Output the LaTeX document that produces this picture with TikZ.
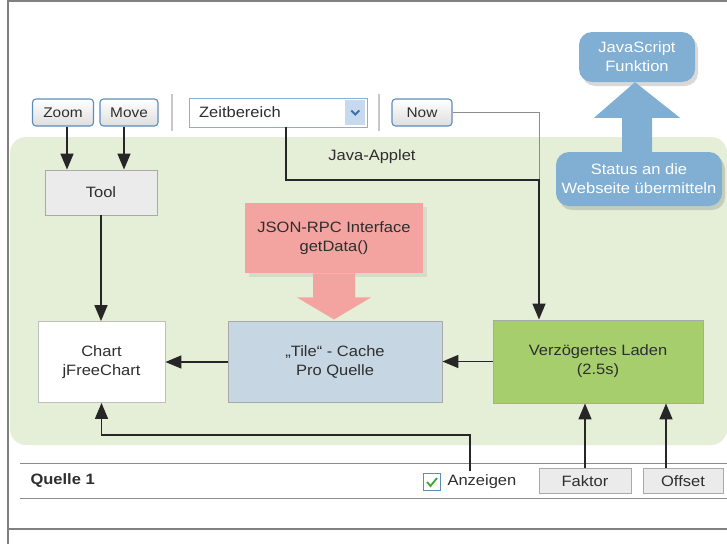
\documentclass[tikz,border=0pt]{standalone}
\usepackage{fontspec}
\setmainfont{Liberation Sans}[FakeStretch=1.1]
\usetikzlibrary{arrows.meta,calc,positioning,shadows}
\definecolor{AppletGreen}{HTML}{E5EED7}
\definecolor{LoadGreen}{HTML}{A6CE6C}
\definecolor{CacheBlue}{HTML}{C6D6E3}
\definecolor{RpcPink}{HTML}{F4A4A0}
\definecolor{JsBlue}{HTML}{80AFD3}
\definecolor{BtnBlue}{HTML}{5C8DB9}
\definecolor{DropBlue}{HTML}{C6D9EE}
\definecolor{ChevBlue}{HTML}{3D6FA8}
\definecolor{CheckGreen}{HTML}{3BAA35}
\definecolor{BoxGray}{HTML}{A9A9A9}
\definecolor{TxtGray}{HTML}{2E2E2E}
\tikzset{
 ui button/.style={draw=BtnBlue,line width=1.1pt,rounded corners=3.5pt,top color=white,
                   bottom color=black!13,minimum height=27pt,inner sep=0pt,
                   text=TxtGray,font=\fontsize{14}{16}\selectfont},
 ui field/.style={draw=BoxGray,line width=.8pt,fill=black!8,minimum height=25pt,
                  inner sep=0pt,text=TxtGray,font=\fontsize{15}{17}\selectfont},
 ui sep/.style={draw=black!22,line width=1.6pt},
 ui rule/.style={draw=black!45,line width=.8pt},
 ui text/.style={text=TxtGray,font=\fontsize{15}{17}\selectfont},
 flow box/.style={draw=BoxGray,line width=.9pt,minimum height=81pt,inner sep=0pt,
                  align=center,text=TxtGray,font=\fontsize{15}{19}\selectfont},
 flow arrow/.style={draw=black!85,line width=1.6pt,-{Triangle[length=16pt,width=13pt]}},
 js blob/.style={fill=JsBlue,rounded corners=13pt,align=center,text=white,inner sep=0pt,
                 font=\fontsize{15}{19}\selectfont,
                 drop shadow={shadow xshift=3pt,shadow yshift=-4pt,opacity=.3}}
}
\begin{document}
\begin{tikzpicture}[x=1pt,y=-1pt]
 \useasboundingbox (0,0) rectangle (727,544);
 % page frame and applet area
 \draw[black!50,line width=1.6pt] (727,1) -- (8,1) -- (8,544);
 \draw[black!50,line width=1.6pt] (8,529) -- (727,529);
 \fill[AppletGreen,rounded corners=16pt] (10,137) rectangle (727,445);
 \node[ui text] (applet) at (372,157) {Java-Applet};

 % toolbar
 \node[ui button,minimum width=61pt] (zoom) at (63,112.5) {Zoom};
 \node[ui button,minimum width=58pt] (move) at (129,112.5) {Move};
 \draw[ui sep] (172,94) -- (172,131);
 \node[draw=BtnBlue!70,line width=.9pt,fill=white,minimum width=178pt,
       minimum height=29pt,inner sep=0pt] (zeit) at (278,112.5) {};
 \node[ui text,anchor=west] (zeittext) at ([xshift=7pt]zeit.west) {Zeitbereich};
 \node[fill=DropBlue,minimum width=20pt,minimum height=25pt,inner sep=0pt,
       anchor=east] (drop) at ([xshift=-2pt]zeit.east) {};
 \draw[ChevBlue,line width=1.8pt] ($(drop.center)+(-4,-2)$) -- ++(4,4) -- ++(4,-4);
 \draw[ui sep] (379,94) -- (379,131);
 \node[ui button,minimum width=60pt] (now) at (422,112.5) {Now};

 % javascript side
 \node[js blob,minimum width=116pt,minimum height=50pt] (js) at (637,57) {JavaScript\\Funktion};
 \node[js blob,minimum width=166pt,minimum height=54pt] (status) at (639,179)
   {Status an die\\Webseite übermitteln};
 \fill[JsBlue] ($(status.north)+(-17,4)$) -- ++(0,-38) -- ++(-28,0) -- ($(js.south)+(-2,0)$)
   -- ($(status.north)+(41,-34)$) -- ++(-28,0) -- ++(0,38) -- cycle;

 % applet blocks
 \node[flow box,fill=black!8,minimum width=112pt,minimum height=45pt] (tool) at (101,192.5) {Tool};
 \node[flow box,fill=white,draw=black!25,minimum width=127pt] (chart) at (101.5,362) {Chart\\jFreeChart};
 \node[flow box,fill=CacheBlue,minimum width=214pt] (cache) at (335,362) {„Tile“ - Cache\\Pro Quelle};
 \node[flow box,fill=LoadGreen,minimum width=210pt,minimum height=83pt] (verz) at (598,361.5)
   {Verzögertes Laden\\(2.5s)};
 \node[flow box,fill=RpcPink,draw=none,minimum width=178pt,minimum height=70pt,
       drop shadow={shadow xshift=4pt,shadow yshift=-4pt,opacity=.15}] (json) at (334,238)
   {JSON-RPC Interface\\getData()};
 \fill[RpcPink] ($(json.south)+(-21,0)$) -- ++(0,24) -- ++(-16,0) -- ($(json.south)+(0,46)$)
   -- ($(json.south)+(37,24)$) -- ++(-16,0) -- ++(0,-24) -- cycle;

 % source row
 \draw[ui rule] (20,463) -- (727,463);
 \draw[ui rule] (20,498) -- (727,498);
 \node[ui text,anchor=west,font=\bfseries\fontsize{15}{17}\selectfont] (quelle) at (27,481) {Quelle 1};
 \node[draw=BtnBlue,fill=white,line width=1pt,minimum size=17pt,inner sep=0pt] (chk) at (432,482) {};
 \draw[CheckGreen,line width=1.8pt] ($(chk.center)+(-5,0)$) -- ++(3.5,4) -- ++(6.5,-8);
 \node[ui text,anchor=west] (anz) at (444,482) {Anzeigen};
 \node[ui field,minimum width=92pt] (faktor) at (585,481) {Faktor};
 \node[ui field,minimum width=80pt] (offset) at (683,481) {Offset};

 % connectors
 \coordinate (join) at (539,180);
 \coordinate (anzbend) at (470,435);
 \draw[black!45,line width=.8pt] (now.east) -| (join);
 \draw[flow arrow] ([xshift=8pt]zeit.south) |- (join) -- (join |- verz.north);
 \draw[flow arrow] ([xshift=4pt]zoom.south) -- ([xshift=4pt]zoom.south |- tool.north);
 \draw[flow arrow] ([xshift=-5pt]move.south) -- ([xshift=-5pt]move.south |- tool.north);
 \draw[flow arrow] (tool.south) -- (tool.south |- chart.north);
 \draw[flow arrow] (verz.west) -- (verz.west -| cache.east);
 \draw[flow arrow] (cache.west) -- (cache.west -| chart.east);
 \draw[flow arrow] (anz.north -| anzbend) -- (anzbend) -| (chart.south);
 \draw[flow arrow] (faktor.north) -- (faktor.north |- verz.south);
 \draw[flow arrow] ([xshift=-17pt]offset.north) -- ([xshift=-17pt]offset.north |- verz.south);
\end{tikzpicture}
\end{document}
